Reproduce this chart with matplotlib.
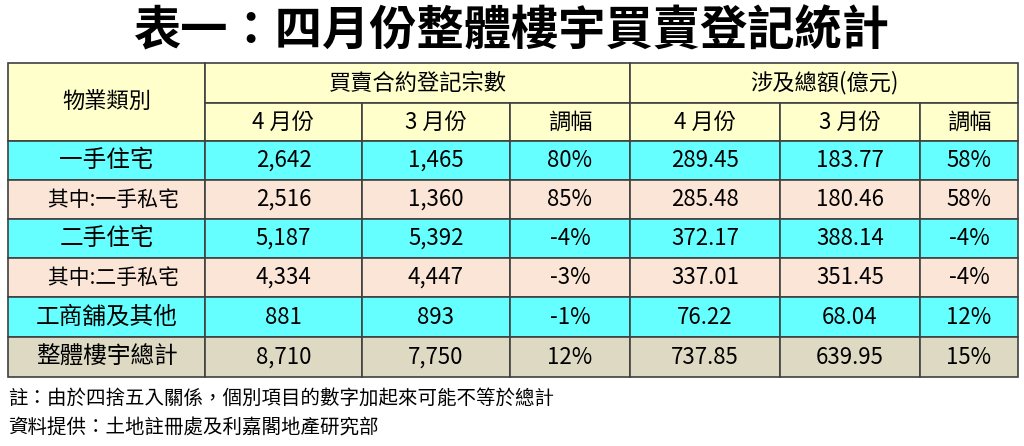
import matplotlib.pyplot as plt
from matplotlib.patches import Rectangle

plt.rcParams['font.family'] = ['Noto Sans CJK TC', 'DejaVu Sans']

title = '表一：四月份整體樓宇買賣登記統計'
categories = ['一手住宅', '其中:一手私宅', '二手住宅', '其中:二手私宅', '工商舖及其他', '整體樓宇總計']
cnt_apr = ['2,642', '2,516', '5,187', '4,334', '881', '8,710']
cnt_mar = ['1,465', '1,360', '5,392', '4,447', '893', '7,750']
cnt_chg = ['80%', '85%', '-4%', '-3%', '-1%', '12%']
amt_apr = ['289.45', '285.48', '372.17', '337.01', '76.22', '737.85']
amt_mar = ['183.77', '180.46', '388.14', '351.45', '68.04', '639.95']
amt_chg = ['58%', '58%', '-4%', '-4%', '12%', '15%']
notes = ['註：由於四捨五入關係，個別項目的數字加起來可能不等於總計',
         '資料提供：土地註冊處及利嘉閣地產研究部']

xs = [8, 205, 362, 510, 630, 780, 920, 1018]
ys = [63, 103, 141, 180, 219, 258, 297, 337, 377]
row_colors = ['#66FFFF', '#FBE5D6', '#66FFFF', '#FBE5D6', '#66FFFF', '#DDD9C3']

fig = plt.figure(figsize=(10.24, 4.46), dpi=100)
ax = fig.add_axes([0, 0, 1, 1])
ax.set_xlim(0, 1024)
ax.set_ylim(446, 0)
ax.axis('off')

ax.text(512, 32, title, ha='center', va='center', fontsize=34, fontweight='black')

def cell(x0, x1, y0, y1, color, text, **kw):
    ax.add_patch(Rectangle((x0, y0), x1 - x0, y1 - y0, facecolor=color,
                           edgecolor='#404040', linewidth=1.2))
    ax.text((x0 + x1) / 2, (y0 + y1) / 2, text, ha='center', va='center',
            fontsize=kw.pop('fontsize', 16), **kw)

hdr = '#FFFFCC'
cell(xs[0], xs[1], ys[0], ys[2], hdr, '物業類別')
cell(xs[1], xs[4], ys[0], ys[1], hdr, '買賣合約登記宗數')
cell(xs[4], xs[7], ys[0], ys[1], hdr, '涉及總額(億元)')
for i, h in enumerate(['4 月份', '3 月份', '調幅', '4 月份', '3 月份', '調幅']):
    cell(xs[i + 1], xs[i + 2], ys[1], ys[2], hdr, h)

cols = [cnt_apr, cnt_mar, cnt_chg, amt_apr, amt_mar, amt_chg]
for r, name in enumerate(categories):
    y0, y1 = ys[r + 2], ys[r + 3]
    c = row_colors[r]
    if name.startswith('其中'):
        cell(xs[0], xs[1], y0, y1, c, '   ' + name, fontsize=15)
    else:
        cell(xs[0], xs[1], y0, y1, c, name, fontsize=17)
    for j, col in enumerate(cols):
        cell(xs[j + 1], xs[j + 2], y0, y1, c, col[r])

ax.text(8, 398, notes[0], ha='left', va='center', fontsize=14)
ax.text(8, 428, notes[1], ha='left', va='center', fontsize=14)

fig.savefig('out.png', dpi=100)
